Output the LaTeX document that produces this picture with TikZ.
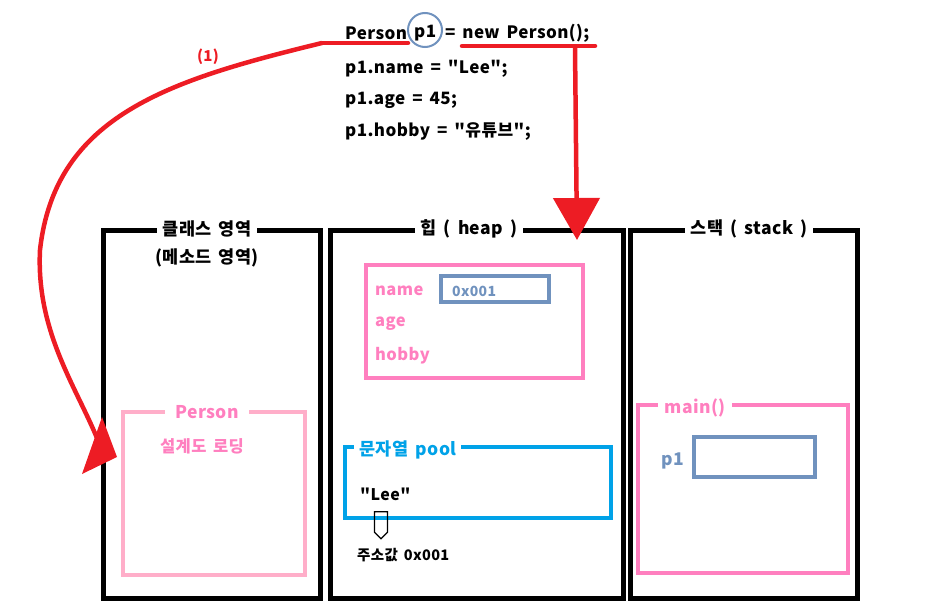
\documentclass[tikz,border=0pt]{standalone}
\usepackage{fontspec}
\setmainfont{Noto Sans CJK KR}[Ligatures=TeXOff,LetterSpace=2.5,WordSpace=1.6]
\usepackage{xcolor}
\definecolor{cRed}{HTML}{ED1C24}
\definecolor{cPink}{HTML}{FF7FBF}
\definecolor{cRose}{HTML}{FFAEC9}
\definecolor{cSteel}{HTML}{7092BE}
\definecolor{cCyan}{HTML}{00A2E8}
\usepackage{tikz}
\usetikzlibrary{positioning,arrows.meta,shapes.arrows}
\newcommand\bigfont{\bfseries\fontsize{17.5}{19}\selectfont}
\tikzset{
  area-box/.style={draw=black,line width=5pt,inner sep=0pt},
  area-title/.style={fill=white,font=\bigfont,inner xsep=6pt,inner ysep=1pt},
  obj-box/.style={draw=cPink,line width=4.5pt,inner sep=0pt},
  slot-box/.style={draw=cSteel,line width=4pt,inner sep=0pt},
  code-text/.style={anchor=west,inner sep=0pt,font=\bfseries\fontsize{17}{19}\selectfont},
  field-text/.style={anchor=west,inner sep=0pt,text=cPink,font=\bfseries\fontsize{16.5}{18}\selectfont},
  red-line/.style={draw=cRed,line width=4.5pt},
  red-arrow/.style={red-line,-{Triangle[length=42pt,width=46pt]}},
}

\begin{document}
\begin{tikzpicture}[x=1pt,y=-1pt]
  \useasboundingbox (0,0) rectangle (934,607);

  % source code
  \node[code-text] (tcls) at (345,33) {Person};
  \node[code-text] (tvar) at (414,33) {p1};
  \node[code-text] (tnew) at (445,33) {= new Person();};
  \node[code-text] (line2) at (345,69) {p1.name = "Lee";};
  \node[code-text] (line3) at (345,100) {p1.age = 45;};
  \node[code-text] (line4) at (345,132) {p1.hobby = "유튜브";};
  \node[draw=cSteel,line width=2pt,circle,minimum size=34pt] (varring) at (425,30) {};

  % memory areas
  \node[area-box,minimum width=217pt,minimum height=368pt] (clsarea) at (211.5,414) {};
  \node[area-box,minimum width=293pt,minimum height=368pt] (heaparea) at (476.5,414) {};
  \node[area-box,minimum width=227pt,minimum height=368pt] (stackarea) at (743.5,414) {};
  \node[area-title] at (207,229) {클래스 영역};
  \node[font=\bigfont] at (207,258) {(메소드 영역)};
  \node[area-title] at (469,229) {힙 ( heap )};
  \node[area-title] at (749,229) {스택 ( stack )};

  % class area
  \node[draw=cRose,line width=4.5pt,minimum width=182pt,minimum height=163pt] (clsbox) at (214,493.5) {};
  \node[fill=white,text=cPink,inner xsep=10pt,inner ysep=1pt,font=\bigfont] at (207,412) {Person};
  \node[text=cPink,font=\bfseries\fontsize{16.5}{19}\selectfont] (loading) at (202,446) {설계도 로딩};

  % heap: object
  \node[obj-box,minimum width=217pt,minimum height=113pt] (objbox) at (474.5,321.5) {};
  \node[field-text] (fname) at (375,291) {name};
  \node[field-text] (fage) at (375,324) {age};
  \node[field-text] (fhobby) at (375,356) {hobby};
  \node[slot-box,minimum width=108pt,minimum height=26pt] (nameslot) at (495,289) {};
  \node[anchor=west,inner sep=0pt,text=cSteel,font=\bfseries\fontsize{14}{16}\selectfont] at (452,291) {0x001};

  % heap: string pool
  \node[draw=cCyan,line width=4pt,minimum width=266pt,minimum height=71pt] (pool) at (478,482.5) {};
  \node[anchor=west,fill=white,text=cCyan,inner xsep=5pt,inner ysep=1pt,font=\bigfont] at (354,450) {문자열 pool};
  \node[code-text,font=\bfseries\fontsize{16}{18}\selectfont] (lee) at (360,494) {"Lee"};
  \node[draw=black,line width=1.3pt,single arrow,shape border rotate=270,
    minimum height=27pt,minimum width=13pt,single arrow head extend=0pt,
    single arrow head indent=0pt,inner sep=2.2pt] (addrarrow) at (381,522) {};
  \node[code-text,font=\bfseries\fontsize{14.5}{16}\selectfont] (addr) at (357,555) {주소값 0x001};

  % stack
  \node[obj-box,line width=4pt,minimum width=210pt,minimum height=168pt] (mainframe) at (743,489) {};
  \node[fill=white,text=cPink,inner xsep=6pt,inner ysep=1pt,font=\bigfont] at (695,408) {main()};
  \node[anchor=west,inner sep=0pt,text=cSteel,font=\bigfont] (p1label) at (661,461) {p1};
  \node[slot-box,minimum width=121pt,minimum height=40pt] (p1slot) at (754.5,457) {};

  % red marks
  \node[text=cRed,font=\bfseries\fontsize{15}{17}\selectfont] (step1) at (208,57) {(1)};
  \coordinate (clsline) at (322,43);
  \coordinate (newline) at (462,46);
  \draw[red-line,line cap=round] (clsline) -- (408,43);
  \draw[red-line,line cap=round] (newline) -- (595,46);
  \draw[red-line] (clsline) .. controls (170,80) and (55,115) .. (40,250)
    .. controls (36,330) and (75,385) .. (97,438);
  \fill[cRed] (102,417) -- (117,457) -- (82,474) -- cycle;
  \draw[red-arrow] (575,48) -- (577,240);
\end{tikzpicture}
\end{document}
